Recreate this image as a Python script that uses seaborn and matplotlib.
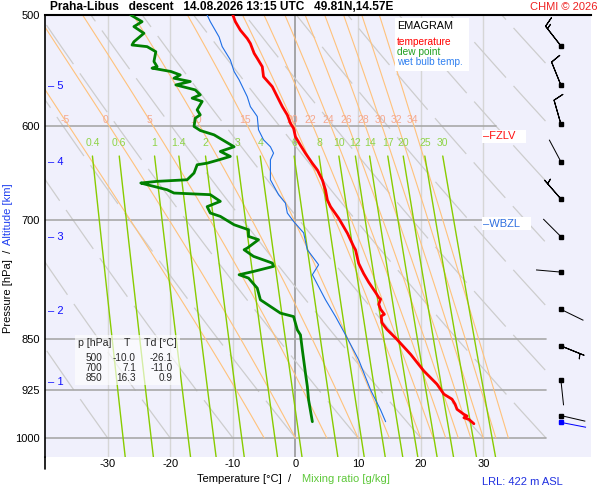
import numpy as np
import pandas as pd
import matplotlib
matplotlib.use("Agg")
import matplotlib.pyplot as plt
import matplotlib.transforms as mtransforms
from matplotlib.patches import Rectangle
from matplotlib.ticker import FixedLocator, NullLocator
import seaborn as sns

# ---------------- data ----------------
temp_p = [500, 505.5, 512.6, 519.6, 523.9, 532.4, 536.8, 544.2, 553.2, 562.3, 571.6, 581.0, 589.0,
          597.1, 602.1, 610.5, 619.0, 627.2, 637.6, 644.6, 655.3, 666.1, 677.1, 684.5, 697.6, 715.0,
          730.8, 734.9, 751.3, 764.0, 774.8, 787.9, 794.4, 796.6, 803.3, 809.9, 816.6, 818.9, 827.9,
          837.0, 850.8, 872.0, 896.0, 915.6, 930.7, 938.4, 946.2, 954.1, 962.0, 964.7, 967.4, 970.0, 977.0]
temp_t = [-10.0, -9.6, -8.8, -7.7, -7.2, -6.6, -6.1, -5.3, -5.1, -3.7, -2.9, -2.1, -1.3,
          -0.8, -0.3, 0.0, 0.8, 1.6, 2.7, 3.5, 4.3, 4.8, 5.1, 5.6, 6.9, 8.3,
          9.3, 9.6, 10.1, 10.9, 11.7, 12.8, 13.3, 13.6, 13.3, 13.6, 14.2, 13.7, 13.8,
          14.6, 16.2, 18.4, 20.5, 22.6, 23.7, 25.0, 25.5, 25.8, 26.9, 27.4, 26.9, 27.7, 28.5]

dew_p = [500, 505.5, 509.6, 515.2, 522.4, 525.2, 526.6, 531.0, 539.6, 544.1, 545.5, 548.5, 551.6,
         554.6, 557.6, 560.7, 565.3, 569.9, 573.0, 576.1, 584.1, 588.9, 592.1, 600.2, 604.2, 608.5,
         620.5, 625.3, 630.4, 633.9, 637.4, 639.1, 647.8, 655.0, 656.7, 658.5, 660.3, 665.8, 669.4,
         671.2, 678.6, 684.5, 691.7, 695.5, 705.1, 710.9, 718.7, 722.6, 732.6, 734.6, 742.6, 750.8,
         754.9, 761.2, 765.3, 769.5, 782.3, 797.4, 815.0, 819.6, 837.7, 844.6, 865.6, 899.4, 919.3,
         939.7, 973.7]
dew_t = [-26.3, -24.5, -25.8, -24.2, -25.8, -26.1, -23.7, -22.3, -22.6, -22.1, -22.9, -19.9, -18.4,
         -19.4, -16.8, -19.1, -16.0, -15.2, -16.5, -14.9, -15.7, -15.2, -16.0, -16.2, -15.2, -13.0,
         -9.8, -12.0, -10.4, -12.2, -14.1, -15.7, -16.2, -17.3, -22.1, -24.7, -23.7, -20.5, -19.4,
         -13.6, -12.0, -14.1, -13.6, -12.0, -9.8, -7.5, -7.5, -5.9, -7.7, -8.2, -6.7, -3.7,
         -3.5, -6.7, -9.0, -7.5, -6.1, -5.6, -2.4, -0.3, 0.3, 0.8, 1.1, 1.6, 1.9,
         2.1, 2.7]

wb_p = [500, 505.5, 518.3, 526.6, 538.2, 548.5, 556.1, 571.6, 581.0, 590.5, 603.5, 613.5, 620.5,
        627.0, 633.9, 655.0, 671.2, 680.5, 691.7, 701.3, 714.5, 734.6, 752.9, 765.3, 797.4, 819.6,
        844.6, 879.9, 924.4, 955.2, 973.7]
wb_t = [-14.1, -13.6, -12.2, -11.7, -10.4, -9.8, -9.0, -7.7, -7.2, -6.1, -5.9, -5.1, -4.0,
        -3.5, -4.0, -4.0, -2.7, -1.6, -1.3, -0.3, 1.3, 1.9, 3.7, 2.7, 4.8, 6.4,
        8.0, 10.1, 12.0, 13.6, 14.4]

table_p = [500, 700, 850]
table_t = [-10.0, 7.1, 16.3]
table_td = [-26.1, -11.0, 0.9]

wind_p = [526, 561, 598, 636, 676, 719, 762, 810, 860, 910, 964]
wind_dir = [322, 338, 344, 332, 319, 315, 275, 116, 112, 174, 103]
wind_spd = [15, 10, 10, 3, 5, 3, 3, 3, 5, 3, 3]
sfc_p = [974]
sfc_dir = [101]
sfc_spd = [3]

alt_km = [1, 2, 3, 4, 5]
alt_p = [912.2, 812.3, 719.5, 636.6, 561.7]

isobars = [600, 700, 850, 925, 1000]
isobar_end = [32, 32, 40, 40, 40]
isotherms = [-30, -20, -10, 0, 10, 20, 30]
theta_c = list(range(-30, 110, 10))
thetaw_c = [-5, 0, 5, 10, 15, 20, 22, 24, 26, 28, 30, 32, 34]
mixr = [0.4, 0.6, 1, 1.4, 2, 3, 4, 6, 8, 10, 12, 14, 17, 20, 25, 30]
p_ticks = [500, 600, 700, 850, 925, 1000]
t_ticks = [-30, -20, -10, 0, 10, 20, 30]
fzlv_p = 610
wbzl_p = 704
lrl_m = 422

# ---------------- style ----------------
sns.set_style("white")
plt.rcParams['font.family'] = ['Liberation Sans', 'DejaVu Sans']

W, H = 600, 500
fig = plt.figure(figsize=(6, 5), dpi=100, facecolor='white')
ax = fig.add_axes([45 / W, 1 - 457 / H, (591 - 45) / W, (457 - 15) / H])
ax.set_facecolor('#f0f0fc')
ax.set_yscale('log')
ax.set_xlim(-40, 47.2)
ax.set_ylim(1031.7, 500)

def fx(x):
    return x / W

def fy(y):
    return 1 - y / H

# isotherms
for t in isotherms:
    ax.plot([t, t], [1031.7, 500], color='#909090' if t == 0 else '#d6d6d6',
            lw=1.1 if t == 0 else 1.0, zorder=1)
# isobars
for p, e in zip(isobars, isobar_end):
    ax.plot([-40, e], [p, p], color='#a8a8a8', lw=1.2, zorder=1.2)

# dry adiabats
pp = np.geomspace(1000, 500, 300)
for th in theta_c:
    tt = (th + 273.15) * (pp / 1000.0) ** 0.2857 - 273.15
    tt = np.where(tt > 40, np.nan, tt)
    ax.plot(tt, pp, color='#cdcdcd', lw=0.9, ls=(0, (38, 9)), zorder=1.1)

# moist adiabats
def esat(tc):
    return 6.112 * np.exp(17.67 * tc / (tc + 243.5))

def dTdp(p, T):
    Rd, cp, Lv, eps = 287.04, 1005.7, 2.501e6, 0.622
    es = esat(T - 273.15)
    rs = eps * es / (p - es)
    return (Rd * T + Lv * rs) / (p * (cp + Lv * Lv * rs * eps / (Rd * T * T)))

pm = np.linspace(1000, 500, 400)
for tw in thetaw_c:
    T = tw + 273.15
    out = [T]
    for i in range(1, len(pm)):
        dp = pm[i] - pm[i - 1]
        k1 = dTdp(pm[i - 1], T)
        k2 = dTdp(pm[i - 1] + dp / 2, T + k1 * dp / 2)
        T = T + k2 * dp
        out.append(T)
    tm = np.array(out) - 273.15
    ax.plot(tm, pm, color='#ffc27c', lw=0.8, zorder=1.3)
    lab_t = np.interp(594, pm[::-1], tm[::-1])
    ax.text(lab_t, 593.7, f"{tw}", color='#f5a88e', fontsize=7.5, ha='center', va='center',
            zorder=2)

# mixing ratio lines
pw = np.geomspace(630, 1031.7, 100)
for w in mixr:
    e = w * pw / (622.0 + w)
    le = np.log(e / 6.112)
    td = 243.5 * le / (17.67 - le)
    ax.plot(td, pw, color='#88cc00', lw=1.0, zorder=1.4)
    lab = f"{w:g}"
    ax.text(td[0], 617, lab, color='#8fd448', fontsize=7.5, ha='center', va='center', zorder=2)

# profiles
df_t = pd.DataFrame({'T': temp_t, 'p': temp_p})
df_d = pd.DataFrame({'T': dew_t, 'p': dew_p})
df_w = pd.DataFrame({'T': wb_t, 'p': wb_p})
sns.lineplot(data=df_w, x='T', y='p', sort=False, estimator=None, color='#1e6ee6', lw=0.8, ax=ax, zorder=3)
sns.lineplot(data=df_d, x='T', y='p', sort=False, estimator=None, color='#008000', lw=2.0, ax=ax, zorder=4)
sns.lineplot(data=df_t, x='T', y='p', sort=False, estimator=None, color='#ff0000', lw=2.0, ax=ax, zorder=5)
ax.set_xlabel('')
ax.set_ylabel('')

# winds
barb_x = 42.4
wd = np.radians(np.array(wind_dir, dtype=float))
ws = np.array(wind_spd, dtype=float)
wp = np.array(wind_p, dtype=float)
strong = ws >= 5
ax.barbs(np.full(strong.sum(), barb_x), wp[strong], -ws[strong] * np.sin(wd[strong]),
         -ws[strong] * np.cos(wd[strong]), length=6, linewidth=0.8, color='k', zorder=6)
weak = ~strong
ax.quiver(np.full(weak.sum(), barb_x), wp[weak], np.sin(wd[weak]), np.cos(wd[weak]),
          angles='uv', scale_units='dots', scale=1 / 25.0, units='dots', width=1.0,
          headwidth=0, headlength=0, headaxislength=0, pivot='tail', color='k', zorder=6)
ax.plot(np.full(len(wp), barb_x), wp, 's', ms=2.3, color='k', zorder=7)
sd = np.radians(np.array(sfc_dir, dtype=float))
ax.quiver([barb_x], sfc_p, np.sin(sd), np.cos(sd),
          angles='uv', scale_units='dots', scale=1 / 25.0, units='dots', width=1.0,
          headwidth=0, headlength=0, headaxislength=0, pivot='tail', color='#0000ff', zorder=6)
ax.plot([barb_x], sfc_p, 's', ms=2.3, color='#0000ff', zorder=7)

# axes styling
for s in ['right', 'bottom']:
    ax.spines[s].set_visible(False)
ax.spines['top'].set_color('black')
ax.spines['top'].set_linewidth(1.5)
ax.spines['left'].set_color('black')
ax.spines['left'].set_linewidth(1.2)
ax.plot([0, 0], [-0.028, 0], transform=ax.transAxes, color='black', lw=1.2, clip_on=False)
ax.yaxis.set_major_locator(FixedLocator(p_ticks))
ax.yaxis.set_minor_locator(NullLocator())
ax.set_yticklabels([str(p) for p in p_ticks])
ax.set_xticks(t_ticks)
ax.set_xticklabels([str(t) for t in t_ticks])
ax.tick_params(axis='both', length=0, labelsize=8, colors='black')
ax.tick_params(axis='y', pad=3.5)
ax.tick_params(axis='x', pad=1.5)

# altitude ticks
blend = mtransforms.blended_transform_factory(ax.transAxes, ax.transData)
for km, p in zip(alt_km, alt_p):
    ax.text(3 / 546, p, f"\u2013 {km}", transform=blend, color='#1010ff', fontsize=8,
            ha='left', va='center', zorder=8)

# FZLV / WBZL labels
ax.text(30.0, fzlv_p, "\u2013FZLV   ", color='#ff1010', fontsize=8, ha='left', va='center',
        zorder=8, bbox=dict(facecolor='white', edgecolor='none', pad=1.0))
ax.text(30.0, wbzl_p, "\u2013WBZL   ", color='#2f6fe0', fontsize=8, ha='left', va='center',
        zorder=8, bbox=dict(facecolor='white', edgecolor='none', pad=1.0))

# legend box
ax.add_patch(Rectangle((fx(395), fy(71)), 74 / W, 53 / H, transform=fig.transFigure,
                       facecolor='white', edgecolor='none', zorder=9, clip_on=False))
ax.text(fx(397), fy(26), "EMAGRAM", transform=fig.transFigure, fontsize=7.8, color='black',
        ha='left', va='center', zorder=10)
for txt, col, yy in [("temperature", '#ff0000', 42), ("dew point", '#20a020', 52),
                     ("wet bulb temp.", '#3080f0', 62)]:
    ax.text(fx(397), fy(yy), txt, transform=fig.transFigure, fontsize=7.3, color=col,
            ha='left', va='center', zorder=10)

# table box
ax.add_patch(Rectangle((fx(75), fy(385)), 105 / W, 50 / H, transform=fig.transFigure,
                       facecolor='white', edgecolor='none', alpha=0.65, zorder=9, clip_on=False))
ax.text(fx(78), fy(343), "p [hPa]", transform=fig.transFigure, fontsize=7.6, ha='left', va='center', zorder=10)
ax.text(fx(127), fy(343), "T", transform=fig.transFigure, fontsize=7.6, ha='center', va='center', zorder=10)
ax.text(fx(144), fy(343), "Td [\u00b0C]", transform=fig.transFigure, fontsize=7.6, ha='left', va='center', zorder=10)
for i, (p, t, td) in enumerate(zip(table_p, table_t, table_td)):
    yy = 358 + 10 * i
    ax.text(fx(102), fy(yy), f"{p}", transform=fig.transFigure, fontsize=7.2, ha='right', va='center', zorder=10)
    ax.text(fx(136), fy(yy), f"{t:.1f}", transform=fig.transFigure, fontsize=7.2, ha='right', va='center', zorder=10)
    ax.text(fx(173), fy(yy), f"{td:.1f}", transform=fig.transFigure, fontsize=7.2, ha='right', va='center', zorder=10)

# figure texts
fig.text(fx(50), fy(7), "Praha-Libus   descent   14.08.2026 13:15 UTC   49.81N,14.57E",
         fontsize=8.6, fontweight='bold', ha='left', va='center', color='black')
fig.text(fx(597), fy(7), "CHMI \u00a9 2026", fontsize=8, ha='right', va='center', color='#ee2020')
fig.text(fx(197), fy(479), "Temperature [\u00b0C]  /", fontsize=8, ha='left', va='center', color='black')
fig.text(fx(302), fy(479), "Mixing ratio [g/kg]", fontsize=8, ha='left', va='center', color='#5ec83a')
fig.text(fx(482), fy(482), f"LRL: {lrl_m} m ASL", fontsize=8, ha='left', va='center', color='#2030e0')
fig.text(fx(8), fy(333), "Pressure [hPa]  /", fontsize=8, rotation=90, ha='center', va='bottom', color='black')
fig.text(fx(8), fy(183), "Altitude [km]", fontsize=8, rotation=90, ha='center', va='top', color='#2040f0')

fig.savefig("out.png", dpi=100, facecolor='white')
